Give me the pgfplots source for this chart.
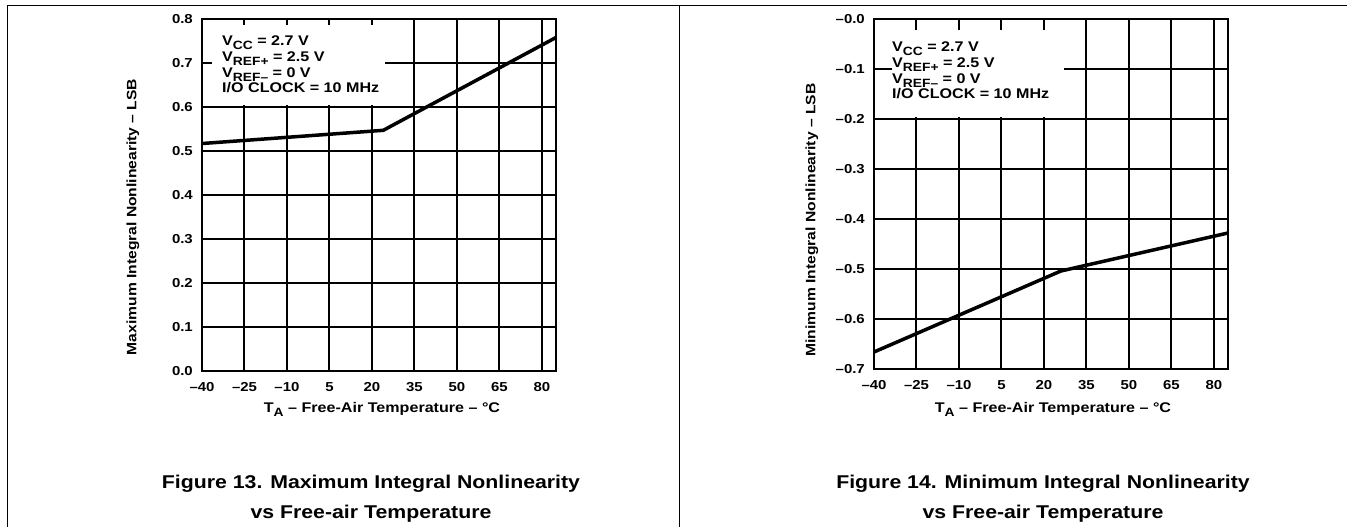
\documentclass[border=0pt]{standalone}
\usepackage{fontspec}
\setmainfont{Liberation Sans}[FakeStretch=1.15]
\usepackage{pgfplots}
\pgfplotsset{compat=1.18}
\newcommand\fs[1]{\fontsize{#1}{#1}\selectfont\bfseries}
\newcommand\sub[1]{\raisebox{-4pt}{\fontsize{12}{12}\selectfont\bfseries #1}}

\pgfplotsset{inl/.style={
  scale only axis, width=354pt, anchor=south west,
  xmin=-40, xmax=85, xtick={-40,-25,-10,5,20,35,50,65,80},
  xticklabels={–40,–25,–10,5,20,35,50,65,80},
  grid=major, major grid style={black, line width=2pt},
  axis line style={line width=2pt},
  major tick length=0pt,
  tick label style={font=\fs{13}, inner sep=0pt},
  xticklabel style={anchor=north, yshift=-11pt},
  yticklabel style={anchor=east, xshift=-9pt},
}}

\begin{document}
\begin{tikzpicture}[x=1pt,y=1pt]
\useasboundingbox (0,0) rectangle (1351,527);
\draw[line width=1pt] (7,0) -- (7,521) -- (1347,521);
\draw[line width=1pt] (679,0) -- (679,521);

% Figure 13
\begin{axis}[inl, at={(202pt,156pt)}, height=352pt,
  ymin=0, ymax=0.8, ytick={0,0.1,0.2,0.3,0.4,0.5,0.6,0.7,0.8},
  yticklabels={0.0,0.1,0.2,0.3,0.4,0.5,0.6,0.7,0.8}]
\fill[white] (axis cs:-36.4,0.605) rectangle (axis cs:24.6,0.786);
\addplot[black, line width=3.5pt] coordinates {(-40,0.517) (24,0.547) (85,0.758)};
\end{axis}
\node[anchor=base west, font=\fs{14}, inner sep=0] at (222,481) {V\sub{CC} = 2.7 V};
\node[anchor=base west, font=\fs{14}, inner sep=0] at (222,465) {V\sub{REF+} = 2.5 V};
\node[anchor=base west, font=\fs{14}, inner sep=0] at (222,449) {V\sub{REF–} = 0 V};
\node[anchor=base west, font=\fs{14}, inner sep=0] at (222,434) {I/O CLOCK = 10 MHz};
\node[anchor=base, font=\fs{14}, inner sep=0] at (382,114) {T\sub{A} – Free-Air Temperature – °C};
\node[rotate=90, font=\fs{13.6}, inner sep=0] at (133,310) {Maximum Integral Nonlinearity – LSB};
\node[anchor=base, font=\fs{18.5}, inner sep=0] at (371,38) {Figure 13. Maximum Integral Nonlinearity};
\node[anchor=base, font=\fs{18.5}, inner sep=0] at (371,9) {vs Free-air Temperature};

% Figure 14
\begin{axis}[inl, at={(874pt,158pt)}, height=350pt,
  ymin=-0.7, ymax=0, ytick={-0.7,-0.6,-0.5,-0.4,-0.3,-0.2,-0.1,0},
  yticklabels={–0.7,–0.6,–0.5,–0.4,–0.3,–0.2,–0.1,–0.0}]
\fill[white] (axis cs:-33.6,-0.196) rectangle (axis cs:27.1,-0.022);
\addplot[black, line width=3.5pt] coordinates {(-40,-0.666) (26,-0.504) (85,-0.428)};
\end{axis}
\node[anchor=base west, font=\fs{14}, inner sep=0] at (892,475) {V\sub{CC} = 2.7 V};
\node[anchor=base west, font=\fs{14}, inner sep=0] at (892,459) {V\sub{REF+} = 2.5 V};
\node[anchor=base west, font=\fs{14}, inner sep=0] at (892,443) {V\sub{REF–} = 0 V};
\node[anchor=base west, font=\fs{14}, inner sep=0] at (892,428) {I/O CLOCK = 10 MHz};
\node[anchor=base, font=\fs{14}, inner sep=0] at (1053,114) {T\sub{A} – Free-Air Temperature – °C};
\node[rotate=90, font=\fs{13.6}, inner sep=0] at (812,307) {Minimum Integral Nonlinearity – LSB};
\node[anchor=base, font=\fs{18.5}, inner sep=0] at (1043,38) {Figure 14. Minimum Integral Nonlinearity};
\node[anchor=base, font=\fs{18.5}, inner sep=0] at (1043,9) {vs Free-air Temperature};
\end{tikzpicture}
\end{document}
